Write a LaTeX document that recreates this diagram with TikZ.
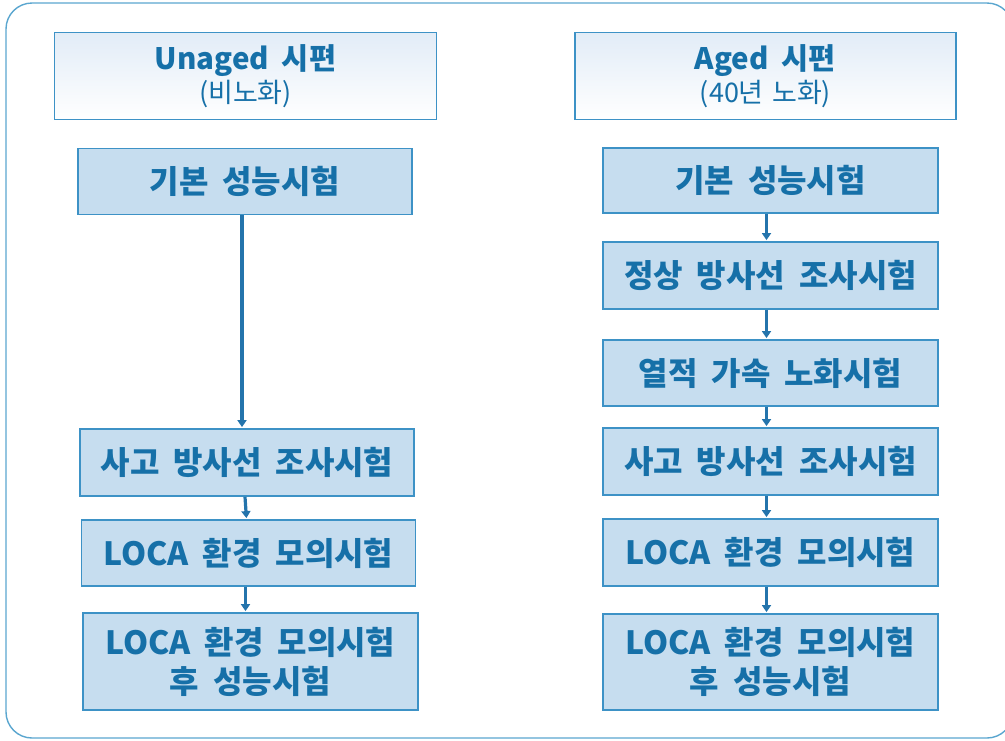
\documentclass[tikz,border=0pt]{standalone}
\usepackage{fontspec}
\usetikzlibrary{arrows.meta}
\newfontfamily\krfont{Noto Sans CJK KR Black}[WordSpace=1.9]
\newfontfamily\krlight{Noto Sans CJK KR}[WordSpace=1.4]
\definecolor{frameblue}{HTML}{5AA6CF}
\definecolor{boxedge}{HTML}{3D92C6}
\definecolor{boxfill}{HTML}{C6DDEF}
\definecolor{txtblue}{HTML}{1670A8}
\definecolor{arrowblue}{HTML}{2474AC}
\definecolor{headtop}{HTML}{E2ECF7}
\tikzset{
  x=1pt, y=-1pt,
  procbox/.style={draw=boxedge, line width=1.8pt, fill=boxfill, minimum width=334pt, minimum height=66pt, inner sep=0pt, align=center, text=txtblue, font=\krfont\fontsize{32}{39}\selectfont},
  headbox/.style={draw=boxedge, line width=1.6pt, top color=headtop, bottom color=white, minimum width=382pt, minimum height=87pt, inner sep=0pt, align=center, text=txtblue},
  flow/.style={draw=arrowblue, line width=3.2pt, -{Triangle[length=7pt,width=9pt]}, shorten >=1pt}
}
\begin{document}
\begin{tikzpicture}
\useasboundingbox (0,0) rectangle (1005,740);
\draw[frameblue, line width=1.4pt, rounded corners=26pt] (6,3) rectangle (1013,738);

% left column
\node[headbox] (h1) at (245.5,76) {{\krfont\fontsize{29.5}{36}\selectfont Unaged 시편}\\[3pt]{\krlight\fontsize{27}{32}\selectfont (비노화)}};
\node[procbox] (l1) at (245,181.5) {기본 성능시험};
\node[procbox, minimum height=67pt] (l2) at (247,462.5) {사고 방사선 조사시험};
\node[procbox] (l3) at (248.5,553) {LOCA 환경 모의시험};
\node[procbox, minimum width=335pt, minimum height=97pt] (l4) at (250.5,661.5) {LOCA 환경 모의시험\\후 성능시험};

% right column
\node[headbox, minimum width=381pt] (h2) at (765.5,76) {{\krfont\fontsize{29.5}{36}\selectfont Aged 시편}\\[3pt]{\krlight\fontsize{27}{32}\selectfont (40년 노화)}};
\node[procbox, minimum width=335pt, minimum height=65pt] (r1) at (770.5,180.5) {기본 성능시험};
\node[procbox, minimum width=335pt, minimum height=67pt] (r2) at (770.5,275.5) {정상 방사선 조사시험};
\node[procbox, minimum width=335pt] (r3) at (770.5,373) {열적 가속 노화시험};
\node[procbox, minimum width=335pt, minimum height=67pt] (r4) at (770.5,461.5) {사고 방사선 조사시험};
\node[procbox, minimum width=335pt, minimum height=67pt] (r5) at (770.5,552.5) {LOCA 환경 모의시험};
\node[procbox, minimum width=335pt, minimum height=96pt] (r6) at (770.5,662) {LOCA 환경 모의시험\\후 성능시험};

% arrows
\draw[flow] ([xshift=-3pt]l1.south) -- ([xshift=-5pt]l2.north);
\draw[flow] ([xshift=-2pt]l2.south) -- ([xshift=-2pt]l3.north);
\draw[flow] ([xshift=-3pt]l3.south) -- ([xshift=-5pt]l4.north);
\draw[flow] ([xshift=-4pt]r1.south) -- ([xshift=-4pt]r2.north);
\draw[flow] ([xshift=-4pt]r2.south) -- ([xshift=-4pt]r3.north);
\draw[flow] ([xshift=-4pt]r3.south) -- ([xshift=-4pt]r4.north);
\draw[flow] ([xshift=-4pt]r4.south) -- ([xshift=-4pt]r5.north);
\draw[flow] ([xshift=-4pt]r5.south) -- ([xshift=-4pt]r6.north);
\end{tikzpicture}
\end{document}
